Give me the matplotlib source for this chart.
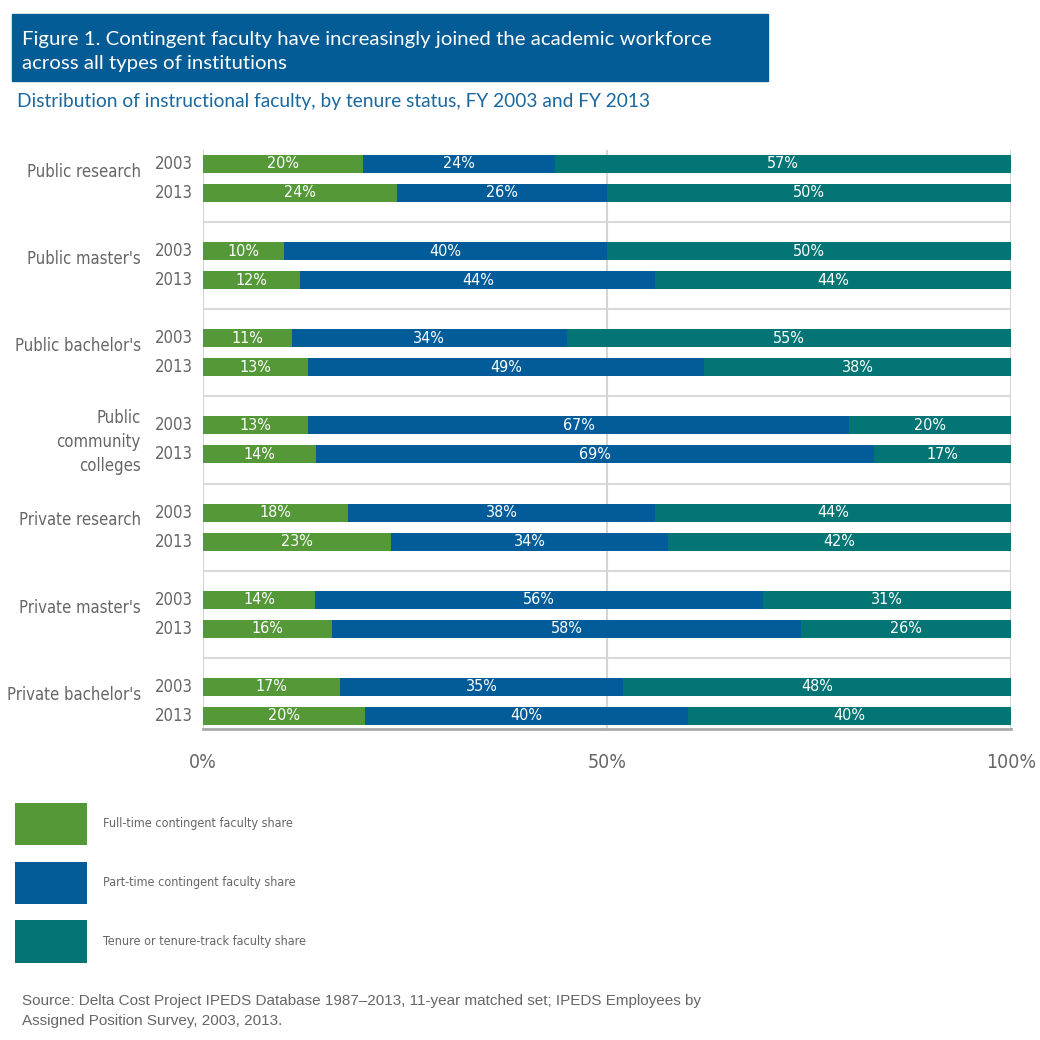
import matplotlib.pyplot as plt
from matplotlib.patches import Rectangle, Patch
import numpy as np

categories = ["Public research", "Public master's", "Public bachelor's",
              "Public\ncommunity\ncolleges", "Private research",
              "Private master's", "Private bachelor's"]
years = ["2003", "2013"]

full_2003 = [20, 10, 11, 13, 18, 14, 17]
part_2003 = [24, 40, 34, 67, 38, 56, 35]
tenure_2003 = [57, 50, 55, 20, 44, 31, 48]

full_2013 = [24, 12, 13, 14, 23, 16, 20]
part_2013 = [26, 44, 49, 69, 34, 58, 40]
tenure_2013 = [50, 44, 38, 17, 42, 26, 40]

series_names = ["Full-time contingent faculty share",
                "Part-time contingent faculty share",
                "Tenure or tenure-track faculty share"]
colors = ["#559838", "#015c99", "#037574"]

# condensed face for the chart labels
narrow = dict(family=["DejaVu Sans"], stretch="condensed")
gray = "#666666"

fig = plt.figure(figsize=(10.4, 10.4), dpi=100)
W = H = 1040.0

# title banner
fig.patches.append(Rectangle((12 / W, 1 - 81 / H), 756 / W, 67 / H,
                             transform=fig.transFigure, color="#035c96", zorder=0))
fig.text(22 / W, 1 - 52 / H,
         "Figure 1. Contingent faculty have increasingly joined the academic workforce\n"
         "across all types of institutions",
         color="white", fontsize=14.7, family=["Lato", "DejaVu Sans"],
         va="center", ha="left", linespacing=1.5)
fig.text(17 / W, 1 - 102 / H,
         "Distribution of instructional faculty, by tenure status, FY 2003 and FY 2013",
         color="#1a68a0", fontsize=13.8, family=["Lato", "DejaVu Sans"],
         va="center", ha="left")

ax = fig.add_axes([203 / W, 1 - 729 / H, 808 / W, 579 / H])

rows = [(full_2003, part_2003, tenure_2003), (full_2013, part_2013, tenure_2013)]
bar_h = 0.62
for k, (f, p, t) in enumerate(rows):
    vals = np.array([f, p, t], dtype=float)
    vals = vals / vals.sum(axis=0) * 100
    raw = [f, p, t]
    ypos = np.arange(len(categories)) * 3 + k
    left = np.zeros(len(categories))
    for s in range(3):
        ax.barh(ypos, vals[s], left=left, height=bar_h, color=colors[s], zorder=3)
        for i in range(len(categories)):
            ax.text(left[i] + vals[s][i] / 2, ypos[i], f"{raw[s][i]}%",
                    ha="center", va="center", color="white", fontsize=11.5,
                    zorder=4, **narrow)
        left += vals[s]
    for i in range(len(categories)):
        ax.text(-1.2, ypos[i], years[k], ha="right", va="center",
                color=gray, fontsize=12, **narrow)

for i, cat in enumerate(categories):
    off = 0.58 if "\n" in cat else 0.27
    ax.text(-7.7, i * 3 + off, cat, ha="right", va="center", color=gray,
            fontsize=12, linespacing=1.44, **narrow)

for i in range(len(categories) - 1):
    ax.axhline(i * 3 + 2, color="#dadada", lw=1.5, zorder=1)
for x in [0, 50, 100]:
    ax.axvline(x, color="#d4d4d4", lw=1.5, zorder=1)

ax.set_xlim(0, 100)
ax.set_ylim(19.45, -0.48)
for side in ["top", "left", "right"]:
    ax.spines[side].set_visible(False)
ax.spines["bottom"].set_color("#a9a9a9")
ax.spines["bottom"].set_linewidth(2)
ax.set_yticks([])
ax.set_xticks([0, 50, 100])
ax.set_xticklabels(["0%", "50%", "100%"], **narrow)
ax.tick_params(axis="x", length=0, labelsize=14, labelcolor=gray, pad=17)

handles = [Patch(facecolor=c, edgecolor="none") for c in colors]
leg = fig.legend(handles, series_names, loc="upper left",
                 bbox_to_anchor=(15 / W, 1 - 803 / H), frameon=False,
                 borderpad=0, borderaxespad=0, handlelength=5.8,
                 handleheight=4.85, labelspacing=1.3, handletextpad=1.27,
                 prop={"family": "DejaVu Sans", "stretch": "condensed", "size": 9})
for t in leg.get_texts():
    t.set_color(gray)

fig.text(22 / W, 1 - 1011 / H,
         "Source: Delta Cost Project IPEDS Database 1987\u20132013, 11-year matched set; IPEDS Employees by\n"
         "Assigned Position Survey, 2003, 2013.",
         color=gray, fontsize=11, family=["Liberation Sans", "DejaVu Sans"],
         va="center", ha="left", linespacing=1.6)

fig.savefig("out.png", dpi=100)
